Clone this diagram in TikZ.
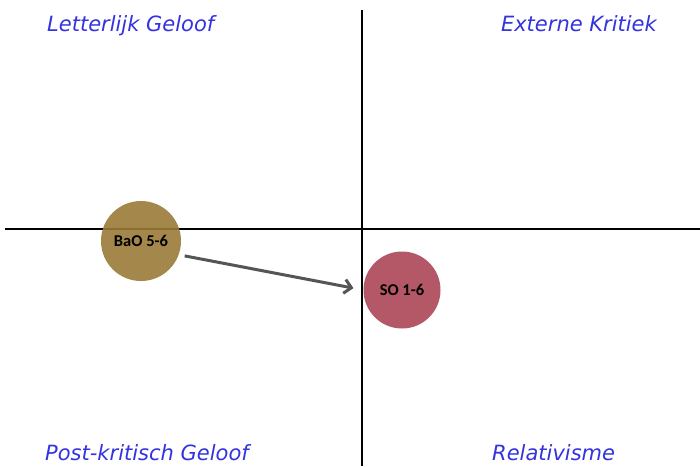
\documentclass[tikz,border=0pt]{standalone}
\usepackage{fontspec}
\usetikzlibrary{arrows.meta}
\setmainfont{DejaVu Sans}
\newfontfamily\labfont{Carlito}
\definecolor{qblue}{HTML}{3333E0}
\definecolor{gold}{HTML}{9A7B38}
\definecolor{rose}{HTML}{B04E5E}
\definecolor{arr}{HTML}{555555}
\tikzset{
  quad/.style={text=qblue, font=\itshape\fontsize{21}{25}\selectfont, inner sep=0pt},
  axis/.style={line width=1.4pt, black},
  blob/.style={circle, inner sep=0pt, font=\labfont\bfseries\fontsize{16.5}{19}\selectfont},
}
\begin{document}
\begin{tikzpicture}[x=1pt,y=-1pt]
\useasboundingbox (0,0) rectangle (700,466);
\fill[white] (0,0) rectangle (700,466);
\coordinate (hl) at (5,229);
\coordinate (hr) at (700,229);
\coordinate (vt) at (362,10);
\coordinate (vb) at (362,466);
\draw[axis] (hl) -- (hr);
\draw[axis] (vt) -- (vb);
\node[quad, anchor=base west] (tl) at (47,31) {Letterlijk Geloof};
\node[quad, anchor=base east] (tr) at (657,31) {Externe Kritiek};
\node[quad, anchor=base west] (bl) at (45,460) {Post-kritisch Geloof};
\node[quad, anchor=base west] (br) at (492,460) {Relativisme};
\node[blob, fill=gold, fill opacity=0.9, text opacity=1, minimum size=80pt] (bao) at (141,241) {BaO 5-6};
\node[blob, fill=rose, fill opacity=0.95, text opacity=1, minimum size=77pt] (so) at (402,290) {SO 1-6};
\draw[arr, line width=3pt, shorten <=6pt, shorten >=10pt, -{Straight Barb[length=7pt,width=14pt]}] (bao.-20) -- (so.west);
\end{tikzpicture}
\end{document}
